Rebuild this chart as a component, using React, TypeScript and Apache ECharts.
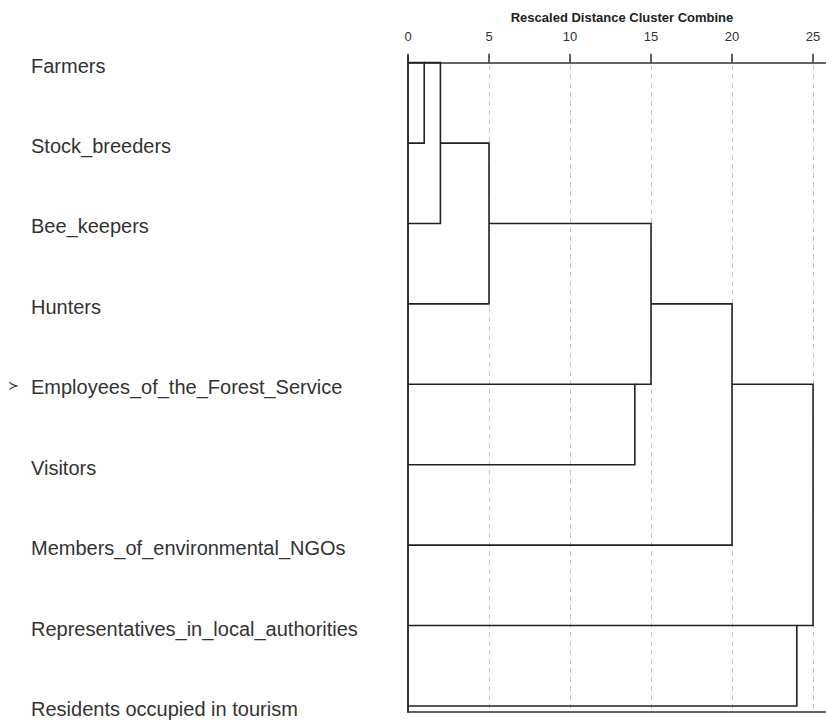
import React, { useEffect, useRef } from "react";
import * as echarts from "echarts";

const leaves = [
  "Farmers",
  "Stock_breeders",
  "Bee_keepers",
  "Hunters",
  "Employees_of_the_Forest_Service",
  "Visitors",
  "Members_of_environmental_NGOs",
  "Representatives_in_local_authorities",
  "Residents occupied in tourism",
];
// merges: node ids 0..8 are leaves, 9+ are merged clusters in order
const mergeA = [0, 9, 10, 4, 11, 13, 7, 14];
const mergeB = [1, 2, 3, 5, 12, 6, 8, 15];
const mergeDist = [1, 2, 5, 14, 15, 20, 24, 25];
const xTicks = [0, 5, 10, 15, 20, 25];
const leafIdx = leaves.map((_, i) => i);

function buildBrackets() {
  const nodeX: number[] = leaves.map(() => 0);
  const nodeY: number[] = leaves.map((_, i) => i);
  const data: any[] = [];
  mergeDist.forEach((d, k) => {
    const a = mergeA[k];
    const b = mergeB[k];
    data.push({
      coords: [
        [nodeX[a], nodeY[a]],
        [d, nodeY[a]],
        [d, nodeY[b]],
        [nodeX[b], nodeY[b]],
      ],
    });
    nodeX.push(d);
    nodeY.push(Math.floor((nodeY[a] + nodeY[b]) / 2));
  });
  return data;
}

export default function App() {
  const ref = useRef<HTMLDivElement>(null);
  useEffect(() => {
    if (!ref.current) return;
    const chart = echarts.init(ref.current, null, { renderer: "svg" });
    const font = "'Liberation Sans', Arial, sans-serif";
    chart.setOption({
      animation: false,
      backgroundColor: "#ffffff",
      textStyle: { fontFamily: font },
      grid: { left: 408, top: 56, right: 0, height: 656 },
      xAxis: [
        {
          type: "value",
          position: "top",
          min: 0,
          max: 25.8,
          interval: 5,
          axisLine: { show: true, lineStyle: { color: "#333", width: 1.5 } },
          axisTick: { show: true, length: 9, lineStyle: { color: "#333", width: 1.5 } },
          axisLabel: {
            show: true,
            margin: 13,
            fontSize: 13,
            color: "#333",
            fontFamily: font,
            showMaxLabel: false,
            formatter: (v: number) => (xTicks.includes(v) ? String(v) : ""),
          },
          splitLine: {
            show: true,
            lineStyle: { color: "#c8c8c8", width: 1, type: [5, 4] },
          },
        },
        {
          type: "value",
          position: "bottom",
          min: 0,
          max: 25.8,
          axisLine: { show: true, lineStyle: { color: "#333", width: 1.5 } },
          axisTick: { show: false },
          axisLabel: { show: false },
          splitLine: { show: false },
        },
      ],
      yAxis: {
        type: "value",
        inverse: true,
        min: -0.083,
        max: 8.075,
        axisLine: { show: true, lineStyle: { color: "#333", width: 2 } },
        axisTick: { show: false },
        splitLine: { show: false },
        axisLabel: {
          show: true,
          customValues: leafIdx,
          align: "left",
          verticalAlign: "top",
          lineHeight: 6,
          margin: 377,
          fontSize: 20,
          color: "#333",
          fontFamily: font,
          formatter: (v: number) => leaves[Math.round(v)] ?? "",
        },
      },
      graphic: [
        {
          type: "text",
          x: 622,
          y: 17,
          style: {
            text: "Rescaled Distance Cluster Combine",
            fontSize: 13,
            fontWeight: "bold",
            fontFamily: font,
            fill: "#222",
            align: "center",
            verticalAlign: "middle",
          },
        },
        {
          type: "text",
          x: 8,
          y: 385,
          style: {
            text: "≻",
            fontSize: 13,
            fontFamily: "'DejaVu Sans', sans-serif",
            fill: "#333",
            align: "left",
            verticalAlign: "middle",
          },
        },
      ],
      series: [
        {
          type: "lines",
          coordinateSystem: "cartesian2d",
          polyline: true,
          silent: true,
          lineStyle: { color: "#222", width: 1.6, opacity: 1 },
          data: buildBrackets(),
        },
      ],
    });
    return () => chart.dispose();
  }, []);
  return (
    <div
      ref={ref}
      style={{ position: "absolute", left: 0, top: 0, width: 826, height: 720 }}
    />
  );
}
